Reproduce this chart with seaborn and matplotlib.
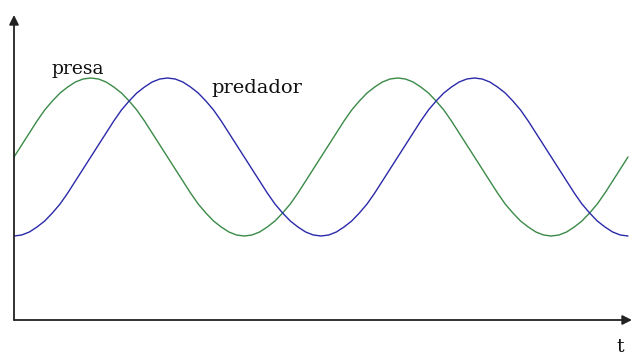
import numpy as np
import pandas as pd
import seaborn as sns
import matplotlib.pyplot as plt

# sample times (arbitrary units); population values
t = np.linspace(0, 20, 81)

presa_period = [163, 175, 187, 199, 210, 219, 227, 233, 238, 241,
                242, 241, 238, 233, 227, 219, 210, 199, 187, 175,
                163, 151, 139, 127, 116, 107, 99, 93, 88, 85,
                84, 85, 88, 93, 99, 107, 116, 127, 139, 151]
predador_period = [84, 85, 88, 93, 99, 107, 116, 127, 139, 151,
                   163, 175, 187, 199, 210, 219, 227, 233, 238, 241,
                   242, 241, 238, 233, 227, 219, 210, 199, 187, 175,
                   163, 151, 139, 127, 116, 107, 99, 93, 88, 85]
presa = presa_period * 2 + [163]
predador = predador_period * 2 + [84]

sns.set_style("white")
plt.rcParams["font.family"] = ["DejaVu Serif", "Liberation Serif"]

W, H = 632, 356
fig = plt.figure(figsize=(W / 100, H / 100), dpi=100)
# axes: origin at pixel (14, 320), top at y=15, right edge of figure
ax = fig.add_axes([14 / W, (H - 320) / H, (W - 14) / W, 305 / H])

df = pd.DataFrame({"t": t, "presa": presa, "predador": predador})
sns.lineplot(data=df, x="t", y="presa", color="#3a8a48", lw=1.0, ax=ax)
sns.lineplot(data=df, x="t", y="predador", color="#2a2aaa", lw=1.0, ax=ax)

ax.set_xlim(0, (W - 14) / 30.7)
ax.set_ylim(0, 305)
ax.set_xlabel("")
ax.set_ylabel("")
ax.set_xticks([])
ax.set_yticks([])
for s in ax.spines.values():
    s.set_visible(False)

# axis arrows
arrow = dict(arrowstyle="-|>", color="#222222", lw=1.3, mutation_scale=14,
             shrinkA=0, shrinkB=0)
ax.annotate("", xy=(0, 1.0), xytext=(0, 0), xycoords="axes fraction",
            arrowprops=arrow, annotation_clip=False)
ax.annotate("", xy=(1.0, 0), xytext=(0, 0), xycoords="axes fraction",
            arrowprops=arrow, annotation_clip=False)


def px(x, y):
    return x / W, 1 - y / H


fig.text(*px(52, 74), "presa", fontsize=13.5, va="baseline", color="#111111")
fig.text(*px(211, 93), "predador", fontsize=14, va="baseline", color="#111111")
fig.text(*px(616, 352), "t", fontsize=13.5, va="baseline", color="#111111")

fig.savefig("out.png", dpi=100)
